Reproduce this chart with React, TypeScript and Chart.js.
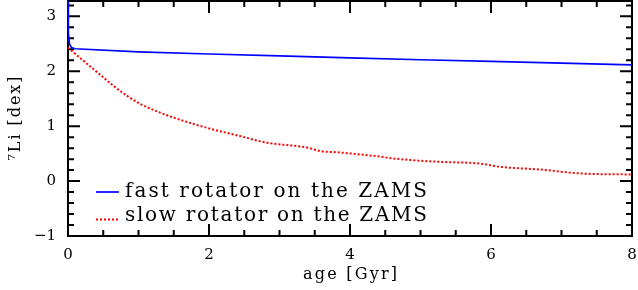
import React, { useEffect, useRef } from "react";
import { Chart, registerables } from "chart.js";

Chart.register(...registerables);

// ---- data ----
const fastAge = [0, 0.005, 0.02, 0.05, 0.1, 1, 2, 3, 4, 5, 6, 7, 8];
const fastLi = [3.4, 2.7, 2.5, 2.43, 2.41, 2.355, 2.315, 2.28, 2.245, 2.21, 2.18, 2.15, 2.115];

const slowAge = [0, 0.17, 0.36, 0.5, 0.64, 0.83, 1.02, 1.26, 1.49, 1.78, 2.06, 2.44, 2.82, 3.39, 3.57, 3.86, 4.33, 4.71, 5.28, 5.84, 6.13, 6.7, 7.26, 8.0];
const slowLi = [2.43, 2.245, 2.04, 1.89, 1.74, 1.56, 1.41, 1.27, 1.16, 1.04, 0.94, 0.82, 0.7, 0.61, 0.55, 0.52, 0.46, 0.4, 0.35, 0.32, 0.26, 0.21, 0.14, 0.12];

const fastLabel = "fast rotator on the ZAMS";
const slowLabel = "slow rotator on the ZAMS";
const xTitle = "age [Gyr]";
const yTitle = "⁷Li [dex]";

const xMin = 0;
const xMax = 8;
const xMajorStep = 2;
const xMinorStep = 0.5;
const yMin = -1;
const yMax = 3.28;
const yMajorStep = 1;
const yMinorStep = 0.2;

const FONT = "'DejaVu Serif', 'Liberation Serif', serif";

function fillSpaced(ctx: any, text: string, x: number, y: number, target: number) {
  ctx.letterSpacing = "0px";
  const w = ctx.measureText(text).width;
  const n = Array.from(text).length;
  const sp = n > 1 ? Math.max(0, (target - w) / (n - 1)) : 0;
  ctx.letterSpacing = sp + "px";
  ctx.textAlign = "left";
  ctx.fillText(text, x, y);
  ctx.letterSpacing = "0px";
}

const framePlugin = {
  id: "frameTicksLegend",
  beforeDatasetsDraw(chart: any) {
    const { ctx, chartArea: a, scales } = chart;
    const xs = scales.x;
    const ys = scales.y;
    ctx.save();
    ctx.strokeStyle = "#000";
    ctx.lineWidth = 2;
    ctx.setLineDash([]);
    ctx.strokeRect(a.left, a.top, a.right - a.left, a.bottom - a.top);

    ctx.beginPath();
    const nx = Math.round((xMax - xMin) / xMinorStep);
    for (let i = 0; i <= nx; i++) {
      const v = xMin + i * xMinorStep;
      const r = v / xMajorStep;
      const major = Math.abs(r - Math.round(r)) < 1e-6;
      const len = major ? 12 : 6;
      const px = xs.getPixelForValue(v);
      ctx.moveTo(px, a.bottom);
      ctx.lineTo(px, a.bottom - len);
      ctx.moveTo(px, a.top);
      ctx.lineTo(px, a.top + len);
    }
    const ny = Math.floor((yMax - yMin) / yMinorStep + 1e-6);
    for (let i = 0; i <= ny; i++) {
      const v = yMin + i * yMinorStep;
      const r = v / yMajorStep;
      const major = Math.abs(r - Math.round(r)) < 1e-6;
      const len = major ? 12 : 6;
      const py = ys.getPixelForValue(v);
      ctx.moveTo(a.left, py);
      ctx.lineTo(a.left + len, py);
      ctx.moveTo(a.right, py);
      ctx.lineTo(a.right - len, py);
    }
    ctx.stroke();

    // axis titles
    ctx.fillStyle = "#000";
    ctx.font = `16px ${FONT}`;
    ctx.textBaseline = "alphabetic";
    fillSpaced(ctx, xTitle, (a.left + a.right) / 2 - 47, 278.5, 94);
    ctx.save();
    ctx.translate(19.5, (a.top + a.bottom) / 2);
    ctx.rotate(-Math.PI / 2);
    fillSpaced(ctx, yTitle, -42, 0, 84);
    ctx.restore();
    ctx.restore();
  },
  afterDraw(chart: any) {
    const { ctx, chartArea: a } = chart;
    ctx.save();
    const lineY = [a.bottom - 44, a.bottom - 16.5];
    const textY = [a.bottom - 39, a.bottom - 15.3];
    chart.data.datasets.forEach((ds: any, i: number) => {
      ctx.strokeStyle = ds.borderColor;
      ctx.lineWidth = ds.borderWidth;
      ctx.setLineDash(ds.borderDash || []);
      ctx.beginPath();
      ctx.moveTo(a.left + 28, lineY[i]);
      ctx.lineTo(a.left + 51, lineY[i]);
      ctx.stroke();
      ctx.setLineDash([]);
      ctx.fillStyle = "#000";
      ctx.font = `20px ${FONT}`;
      ctx.textBaseline = "alphabetic";
      fillSpaced(ctx, ds.label, a.left + 57, textY[i], 302);
    });
    ctx.restore();
  },
};

const zeroPad = (s: any) => {
  s.paddingTop = 0;
  s.paddingBottom = 0;
  s.paddingLeft = 0;
  s.paddingRight = 0;
};

export default function App() {
  const ref = useRef<HTMLCanvasElement | null>(null);
  useEffect(() => {
    if (!ref.current) return;
    const chart = new Chart(ref.current, {
      type: "line",
      data: {
        datasets: [
          {
            label: fastLabel,
            data: fastAge.map((x, i) => ({ x, y: fastLi[i] })),
            borderColor: "#0000ff",
            borderWidth: 1.7,
            pointRadius: 0,
            tension: 0,
            fill: false,
            clip: { left: 2, top: 0, right: 2, bottom: 2 },
          },
          {
            label: slowLabel,
            data: slowAge.map((x, i) => ({ x, y: slowLi[i] })),
            borderColor: "#ff0000",
            borderWidth: 2,
            borderDash: [2, 2],
            pointRadius: 0,
            cubicInterpolationMode: "monotone",
            fill: false,
            clip: { left: 2, top: 0, right: 2, bottom: 2 },
          },
        ],
      },
      options: {
        animation: false,
        responsive: false,
        maintainAspectRatio: false,
        layout: { padding: { left: 0, right: 6, top: 1, bottom: 0 } },
        plugins: {
          legend: { display: false },
          tooltip: { enabled: false },
          title: { display: false },
        },
        scales: {
          x: {
            type: "linear",
            min: xMin,
            max: xMax,
            grid: { display: false, drawTicks: false },
            border: { display: false },
            ticks: {
              stepSize: xMajorStep,
              includeBounds: false,
              padding: 10,
              color: "#000",
              font: { family: FONT, size: 15 },
              maxRotation: 0,
              callback: (v: any) => String(v),
            },
            afterFit: (s: any) => {
              s.height = 54;
              zeroPad(s);
            },
          },
          y: {
            type: "linear",
            min: yMin,
            max: yMax,
            grid: { display: false, drawTicks: false },
            border: { display: false },
            ticks: {
              stepSize: yMajorStep,
              includeBounds: false,
              padding: 12,
              color: "#000",
              font: { family: FONT, size: 15 },
              callback: (v: any) => (Number(v) < 0 ? "\u2212" + String(Math.abs(Number(v))) : String(v)),
            },
            afterFit: (s: any) => {
              s.width = 68;
              zeroPad(s);
            },
          },
        },
      },
      plugins: [framePlugin],
    } as any);
    return () => chart.destroy();
  }, []);
  return (
    <div style={{ position: "fixed", left: 0, top: 0, width: 638, height: 290, background: "#fff" }}>
      <canvas ref={ref} width={638} height={290} style={{ display: "block" }} />
    </div>
  );
}
